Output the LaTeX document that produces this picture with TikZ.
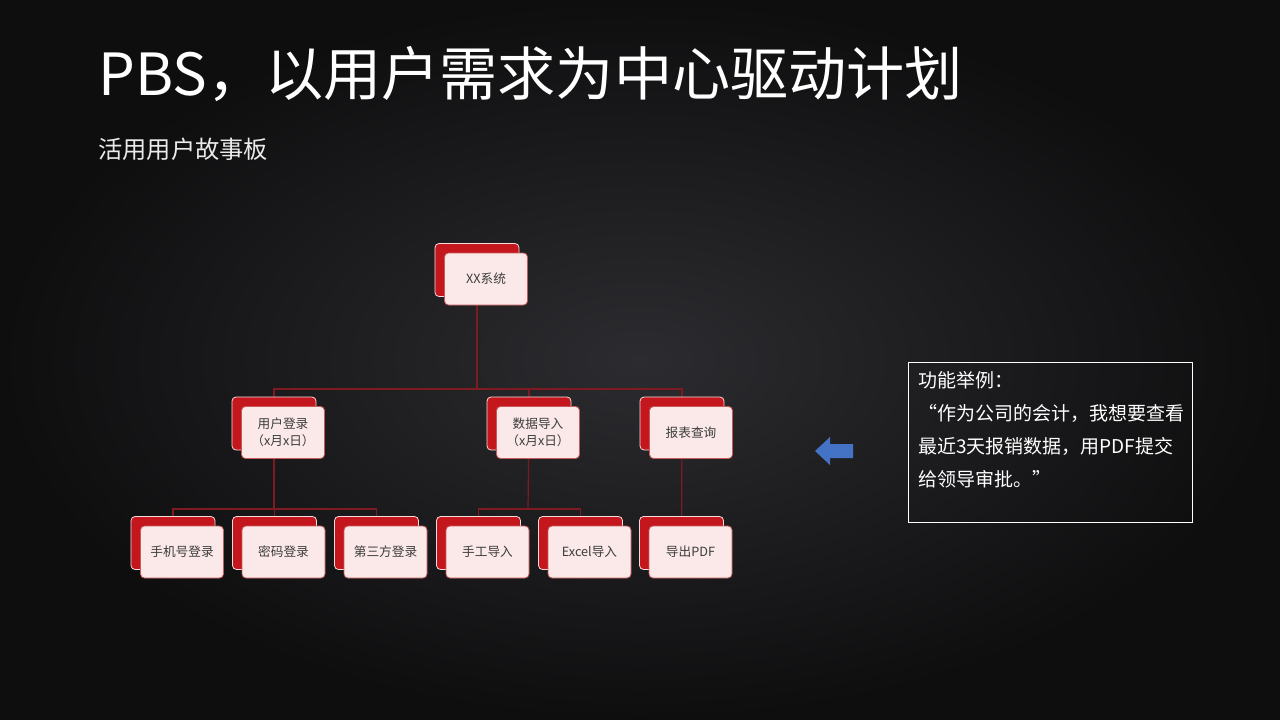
\documentclass[tikz,border=0pt]{standalone}
\usepackage{fontspec}
\setmainfont{Noto Sans CJK SC}
\definecolor{bgin}{HTML}{2C2C30}
\definecolor{bgout}{HTML}{0E0E0F}
\definecolor{cardred}{HTML}{C3161D}
\definecolor{cardpink}{HTML}{FBE9E9}
\definecolor{cardedge}{HTML}{C95A5A}
\definecolor{linkred}{HTML}{7E1B20}
\definecolor{txtgray}{HTML}{3C3C3C}
\definecolor{arrowblue}{HTML}{4472C4}
\pgfdeclarelayer{bg}
\pgfdeclarelayer{edges}
\pgfsetlayers{bg,edges,main}
\tikzset{
  backcard/.style={rectangle, rounded corners=3pt, fill=cardred, draw=white!85!cardred,
    line width=0.6pt, minimum width=63pt, minimum height=39.75pt, inner sep=0pt},
  frontcard/.style={rectangle, rounded corners=3pt, fill=cardpink, draw=cardedge,
    line width=0.6pt, minimum width=62.25pt, minimum height=39pt, inner sep=0pt,
    font=\fontsize{9.5pt}{12.5pt}\selectfont, text=txtgray, align=center},
  link/.style={draw=linkred, line width=0.9pt},
}
\newcommand\card[4]{%
  \node[backcard] (#1b) at (#2,#3) {};
  \node[frontcard] (#1) at ([shift={(9,9)}]#1b.center) {#4};}
\begin{document}
\begin{tikzpicture}[x=0.75pt,y=-0.75pt]
\useasboundingbox (0,0) rectangle (1280,720);
\begin{pgfonlayer}{bg}
\shade[inner color=bgin, outer color=bgout] (0,0) rectangle (1280,720);
\end{pgfonlayer}
% titles
\node[anchor=base west, inner sep=0pt, text=white, font=\fontsize{43.6pt}{50pt}\selectfont] (title) at (98,96) {PBS，以用户需求为中心驱动计划};
\node[anchor=base west, inner sep=0pt, text=white!92!black, font=\fontsize{18.2pt}{22pt}\selectfont] (subtitle) at (98,159) {活用用户故事板};
% cards
\card{xx}{477}{270}{XX系统}
\card{u}{274}{423.5}{用户登录\\（x月x日）}
\card{d}{529}{423.5}{数据导入\\（x月x日）}
\card{r}{682}{423.5}{报表查询}
\card{b1}{173}{543}{手机号登录}
\card{b2}{274.5}{543}{密码登录}
\card{b3}{376.5}{543}{第三方登录}
\card{b4}{478.5}{543}{手工导入}
\card{b5}{580.5}{543}{Excel导入}
\card{b6}{681.5}{543}{导出PDF}
% connectors
\coordinate (j1) at (476,389);
\coordinate (j2) at (274,509);
\coordinate (j3) at (528,509);
\begin{pgfonlayer}{edges}
\draw[link] (xxb.center) -- (xxb.center |- j1);
\draw[link] (ub.center) |- (j1) -| (rb.center);
\draw[link] (db.center) -- (db.center |- j1);
\draw[link] (ub.center) -- (j2);
\draw[link] (b1b.center) |- (j2) -| (b3b.center);
\draw[link] (b2b.center) -- (b2b.center |- j2);
\draw[link] (db.center) -- (j3);
\draw[link] (b4b.center) |- (j3) -| (b5b.center);
\draw[link] (rb.center) -- (b6b.center);
\end{pgfonlayer}
% arrow
\fill[arrowblue] (815,451) -- (830,437) -- (830,444) -- (853,444) -- (853,458)
  -- (830,458) -- (830,465) -- cycle;
% example box
\node[draw=white, line width=0.6pt, anchor=north west, minimum width=213pt, minimum height=120pt, inner sep=0pt] (box) at (908,362) {};
\node[anchor=north west, inner sep=0pt, text=white, align=left,
  font=\fontsize{14.25pt}{24.75pt}\selectfont] (boxtext) at ([shift={(10,9)}]box.north west)
  {功能举例：\\“作为公司的会计，我想要查看\\最近3天报销数据，用PDF提交\\给领导审批。”};
\end{tikzpicture}
\end{document}
